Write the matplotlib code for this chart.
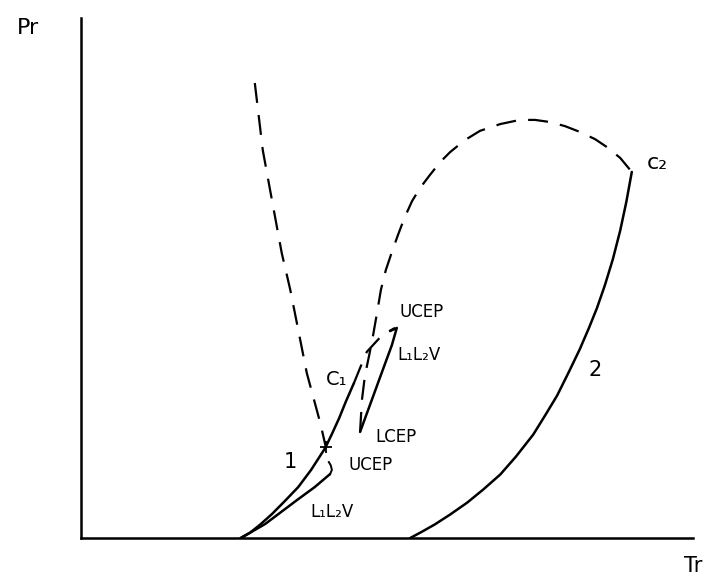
import matplotlib
matplotlib.use("Agg")
import matplotlib.pyplot as plt

plt.rcParams["font.family"] = ["DejaVu Sans"]

# ── 曲線資料（對比溫度 Tr / 對比壓力 Pr，任意單位）──────────
# 成分 1 蒸氣壓曲線（至臨界點 C1）
t_vp1 = [0.261, 0.276, 0.292, 0.312, 0.333, 0.355, 0.376, 0.399, 0.410, 0.422, 0.433, 0.446]
p_vp1 = [0.000, 0.010, 0.025, 0.046, 0.071, 0.098, 0.131, 0.173, 0.200, 0.231, 0.263, 0.298]

# 成分 2 蒸氣壓曲線（至臨界點 c2）
t_vp2 = [0.538, 0.557, 0.578, 0.603, 0.631, 0.657, 0.685, 0.711, 0.739, 0.758,
         0.778, 0.797, 0.815, 0.830, 0.843, 0.856, 0.869, 0.881, 0.891, 0.900]
p_vp2 = [0.000, 0.012, 0.026, 0.045, 0.068, 0.093, 0.122, 0.157, 0.199, 0.235,
         0.274, 0.319, 0.363, 0.404, 0.442, 0.486, 0.536, 0.591, 0.646, 0.704]

# 低溫 L1L2V 三相線（至下方 UCEP）
t_llv_low = [0.261, 0.279, 0.301, 0.327, 0.353, 0.382, 0.407]
p_llv_low = [0.000, 0.012, 0.027, 0.050, 0.073, 0.098, 0.123]
t_llv_hook = [0.407, 0.410, 0.408, 0.405]
p_llv_hook = [0.123, 0.131, 0.140, 0.146]

# 高溫 L1L2V 三相線（LCEP → UCEP）
t_llv_high = [0.456, 0.475, 0.493, 0.508, 0.516, 0.505]
p_llv_high = [0.204, 0.265, 0.323, 0.371, 0.404, 0.398]

# 液液臨界線（高壓 → 下方 UCEP）
t_ll_crit = [0.284, 0.297, 0.309, 0.328, 0.342, 0.369, 0.391, 0.400]
p_ll_crit = [0.875, 0.746, 0.669, 0.548, 0.477, 0.317, 0.221, 0.175]

# 臨界線 C1 → UCEP
t_crit1 = [0.446, 0.456, 0.467, 0.492, 0.513]
p_crit1 = [0.298, 0.327, 0.358, 0.390, 0.404]

# 臨界線 LCEP → c2
t_crit2 = [0.456, 0.459, 0.464, 0.471, 0.477, 0.484, 0.490, 0.498, 0.508, 0.518,
           0.529, 0.541, 0.554, 0.570, 0.587, 0.603, 0.627, 0.652, 0.685, 0.717,
           0.742, 0.766, 0.791, 0.815, 0.840, 0.859, 0.881, 0.900]
p_crit2 = [0.204, 0.265, 0.313, 0.352, 0.388, 0.435, 0.477, 0.515, 0.550, 0.583,
           0.617, 0.648, 0.673, 0.698, 0.723, 0.742, 0.765, 0.783, 0.796, 0.804,
           0.804, 0.800, 0.792, 0.781, 0.767, 0.752, 0.731, 0.704]

fig = plt.figure(figsize=(7.1, 5.76), dpi=100)
ax = fig.add_axes([81 / 710, 38 / 576, 612 / 710, 520 / 576])
ax.set_xlim(0, 1)
ax.set_ylim(0, 1)

solid = dict(color="black", lw=1.8, solid_capstyle="round", solid_joinstyle="round")
dashed = dict(color="black", lw=1.6, linestyle=(0, (9, 5.5)))

ax.plot(t_vp1, p_vp1, **solid)
ax.plot(t_vp2, p_vp2, **solid)
ax.plot(t_llv_low, p_llv_low, **solid)
ax.plot(t_llv_hook, p_llv_hook, color="black", lw=1.4)
ax.plot(t_llv_high, p_llv_high, **solid)
ax.plot(t_ll_crit, p_ll_crit, **dashed)
ax.plot(t_crit1, p_crit1, **dashed)
ax.plot(t_crit2, p_crit2, **dashed)

# 下方 UCEP 處的小記號
ax.plot(t_ll_crit[-1], p_ll_crit[-1], marker="+", color="black", ms=9, mew=1.3)

# 文字標註
ax.text(-0.087, 0.981, "Pr", fontsize=16, ha="center", va="center", clip_on=False)
ax.text(1.0, -0.054, "Tr", fontsize=15, ha="center", va="center", clip_on=False)
ax.text(0.942, 0.721, "c₂", fontsize=16, ha="center", va="center")
ax.text(0.418, 0.304, "C₁", fontsize=14, ha="center", va="center")
ax.text(0.557, 0.435, "UCEP", fontsize=12, ha="center", va="center")
ax.text(0.553, 0.352, "L₁L₂V", fontsize=12, ha="center", va="center")
ax.text(0.515, 0.194, "LCEP", fontsize=12, ha="center", va="center")
ax.text(0.474, 0.140, "UCEP", fontsize=12, ha="center", va="center")
ax.text(0.410, 0.050, "L₁L₂V", fontsize=12, ha="center", va="center")
ax.text(0.342, 0.146, "1", fontsize=15, ha="center", va="center")
ax.text(0.840, 0.323, "2", fontsize=15, ha="center", va="center")

for side in ["top", "right"]:
    ax.spines[side].set_visible(False)
for side in ["left", "bottom"]:
    ax.spines[side].set_linewidth(1.8)
ax.set_xticks([])
ax.set_yticks([])

fig.savefig("out.png", dpi=100)
